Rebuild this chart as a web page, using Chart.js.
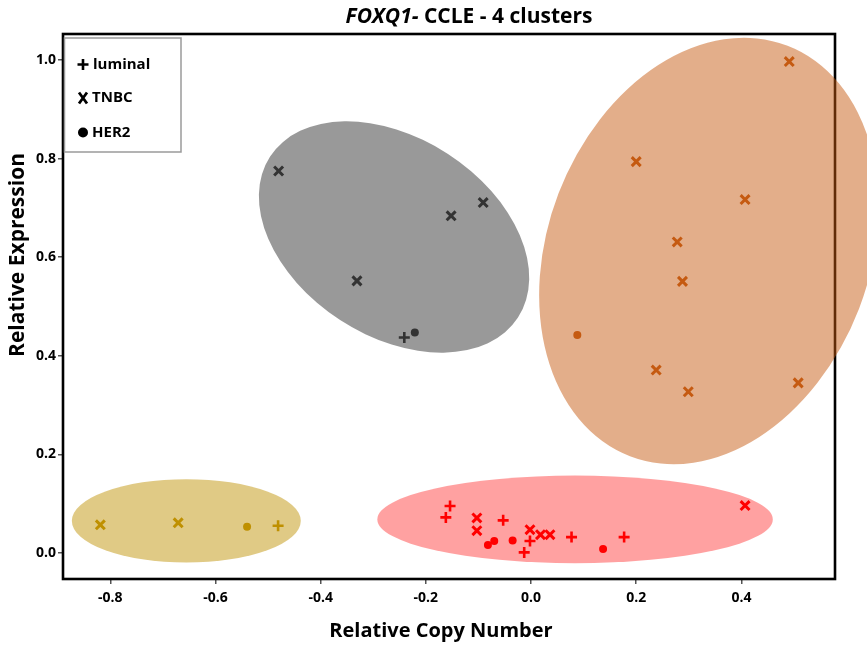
<!DOCTYPE html>
<html><head><meta charset="utf-8">
<script src="https://cdn.jsdelivr.net/npm/chart.js@4.4.0/dist/chart.umd.min.js"></script>
<style>html,body{margin:0;padding:0;background:#fff}#wrap{width:867px;height:650px;position:relative}</style>
</head><body><div id="wrap"><canvas id="c"></canvas></div>
<script>
// ---- data ----
const xTicks = [-0.8, -0.6, -0.4, -0.2, 0.0, 0.2, 0.4];
const yTicks = [0.0, 0.2, 0.4, 0.6, 0.8, 1.0];
const subtypes = ['luminal', 'TNBC', 'HER2'];
const clusterNames = ['gold', 'red', 'gray', 'orange'];

const goldLuminal = [[-0.481, 0.055]];
const goldTNBC = [[-0.819, 0.057], [-0.671, 0.061]];
const goldHER2 = [[-0.540, 0.053]];

const redLuminal = [[-0.154, 0.095], [-0.162, 0.072], [-0.053, 0.066], [-0.002, 0.024], [-0.013, 0.001], [0.077, 0.032], [0.177, 0.032]];
const redTNBC = [[-0.103, 0.071], [-0.103, 0.045], [-0.002, 0.047], [0.018, 0.037], [0.036, 0.037], [0.407, 0.096]];
const redHER2 = [[-0.082, 0.016], [-0.070, 0.024], [-0.035, 0.025], [0.137, 0.008]];

const grayLuminal = [[-0.241, 0.437]];
const grayTNBC = [[-0.480, 0.775], [-0.152, 0.684], [-0.091, 0.711], [-0.331, 0.552]];
const grayHER2 = [[-0.221, 0.447]];

const orangeLuminal = [];
const orangeTNBC = [[0.491, 0.997], [0.200, 0.794], [0.407, 0.717], [0.278, 0.631], [0.288, 0.551], [0.238, 0.371], [0.299, 0.327], [0.508, 0.345]];
const orangeHER2 = [[0.088, 0.442]];

// cluster ellipses: centre and semi-axes in data units, rotation in degrees
const ellipseCenters = [[-0.6555, 0.065], [0.0837, 0.068], [-0.2605, 0.641], [0.338, 0.6126]];
const ellipseRadii = [[0.2177, 0.0846], [0.376, 0.0888], [0.281, 0.201], [0.418, 0.3266]];
const ellipseAngles = [0, 0, 33, -69];

// ---- styles ----
const pointColors = ['#BF9000', '#FF0000', '#333333', '#C55A11'];
const ellipseColors = ['rgba(191,144,0,0.48)', 'rgba(255,0,0,0.37)', 'rgba(51,51,51,0.5)', 'rgba(197,90,17,0.49)'];
const FONT = "'Open Sans', 'DejaVu Sans', sans-serif";

const seriesByCluster = [
  [goldLuminal, goldTNBC, goldHER2],
  [redLuminal, redTNBC, redHER2],
  [grayLuminal, grayTNBC, grayHER2],
  [orangeLuminal, orangeTNBC, orangeHER2]
];

function styleFor(type, color) {
  if (type === 0) return { pointStyle: 'cross', pointRadius: 5.5, borderWidth: 2.6, borderColor: color, backgroundColor: color };
  if (type === 1) return { pointStyle: 'crossRot', pointRadius: 6.3, borderWidth: 3, borderColor: color, backgroundColor: color };
  return { pointStyle: 'circle', pointRadius: 4, borderWidth: 0, borderColor: color, backgroundColor: color };
}

const datasets = [];
seriesByCluster.forEach((arr, ci) => {
  arr.forEach((pts, ti) => {
    if (!pts.length) return;
    datasets.push(Object.assign({
      label: clusterNames[ci] + ' ' + subtypes[ti],
      data: pts.map(p => ({ x: p[0], y: p[1] })),
      pointHoverRadius: 6
    }, styleFor(ti, pointColors[ci])));
  });
});

const backgroundPlugin = {
  id: 'bgShapes',
  beforeDatasetsDraw(chart) {
    const { ctx, chartArea: a, scales: { x, y } } = chart;
    ctx.save();
    ctx.strokeStyle = '#000';
    ctx.lineWidth = 2.6;
    ctx.strokeRect(a.left, a.top, a.right - a.left, a.bottom - a.top);
    for (let i = 0; i < ellipseCenters.length; i++) {
      const cx = x.getPixelForValue(ellipseCenters[i][0]);
      const cy = y.getPixelForValue(ellipseCenters[i][1]);
      const rx = Math.abs(x.getPixelForValue(ellipseCenters[i][0] + ellipseRadii[i][0]) - cx);
      const ry = Math.abs(y.getPixelForValue(ellipseCenters[i][1] + ellipseRadii[i][1]) - cy);
      ctx.beginPath();
      ctx.ellipse(cx, cy, rx, ry, ellipseAngles[i] * Math.PI / 180, 0, Math.PI * 2);
      ctx.fillStyle = ellipseColors[i];
      ctx.fill();
    }
    ctx.restore();
  }
};

const textPlugin = {
  id: 'texts',
  afterDraw(chart) {
    const { ctx, chartArea: a } = chart;
    ctx.save();
    // title
    ctx.textBaseline = 'middle';
    ctx.fillStyle = '#000';
    const f1 = "italic bold 21px " + FONT, f2 = "bold 21px " + FONT;
    const t1 = 'FOXQ1-', t2 = ' CCLE - 4 clusters';
    ctx.font = f1; const w1 = ctx.measureText(t1).width;
    ctx.font = f2; const w2 = ctx.measureText(t2).width;
    let sx = 469 - (w1 + w2) / 2;
    ctx.textAlign = 'left';
    ctx.font = f1; ctx.fillText(t1, sx, 17);
    ctx.font = f2; ctx.fillText(t2, sx + w1, 17);
    // axis titles
    ctx.font = "bold 20px " + FONT;
    ctx.textAlign = 'center';
    ctx.fillText('Relative Copy Number', 441, 631);
    ctx.save();
    ctx.font = "bold 21px " + FONT;
    ctx.translate(18, 255);
    ctx.rotate(-Math.PI / 2);
    ctx.fillText('Relative Expression', 0, 0);
    ctx.restore();
    // legend box
    ctx.fillStyle = '#fff';
    ctx.fillRect(a.left + 1.5, 38, 181 - a.left - 1.5, 114);
    ctx.strokeStyle = '#9a9a9a';
    ctx.lineWidth = 1.5;
    ctx.strokeRect(a.left + 1.5, 38, 181 - a.left - 1.5, 114);
    // legend markers
    ctx.strokeStyle = '#000';
    ctx.fillStyle = '#000';
    ctx.lineWidth = 2.6;
    ctx.beginPath();
    ctx.moveTo(77.5, 64.5); ctx.lineTo(88.5, 64.5);
    ctx.moveTo(83, 59); ctx.lineTo(83, 70);
    ctx.stroke();
    ctx.lineWidth = 2.8;
    ctx.beginPath();
    ctx.moveTo(79, 92.5); ctx.lineTo(87, 103.5);
    ctx.moveTo(87, 92.5); ctx.lineTo(79, 103.5);
    ctx.stroke();
    ctx.beginPath();
    ctx.arc(83, 132.5, 5, 0, Math.PI * 2);
    ctx.fill();
    ctx.font = "bold 15px " + FONT;
    ctx.textAlign = 'left';
    ctx.fillText('luminal', 93, 65);
    ctx.fillText('TNBC', 92, 98);
    ctx.fillText('HER2', 92, 133);
    ctx.restore();
  }
};

const tickFont = { family: FONT, weight: 'bold', size: 14 };

new Chart(document.getElementById('c'), {
  type: 'scatter',
  data: { datasets },
  plugins: [backgroundPlugin, textPlugin],
  options: {
    responsive: true,
    maintainAspectRatio: false,
    animation: false,
    layout: { padding: { top: 34, right: 32, left: 0, bottom: 0 } },
    plugins: { legend: { display: false }, title: { display: false }, tooltip: { enabled: false } },
    scales: {
      x: {
        type: 'linear', min: -0.89, max: 0.578,
        afterBuildTicks(s) { s.ticks = xTicks.map(v => ({ value: v })); },
        afterFit(s) { s.height = 71; },
        ticks: { callback: v => Number(v).toFixed(1), font: tickFont, color: '#000', padding: 6, maxRotation: 0, autoSkip: false },
        grid: { drawOnChartArea: false, drawTicks: true, tickLength: 5, color: '#555', lineWidth: 1.5 },
        border: { display: false }
      },
      y: {
        type: 'linear', min: -0.053, max: 1.053,
        afterBuildTicks(s) { s.ticks = yTicks.map(v => ({ value: v })); },
        afterFit(s) { s.width = 63; },
        ticks: { callback: v => Number(v).toFixed(1), font: tickFont, color: '#000', padding: 2, autoSkip: false },
        grid: { drawOnChartArea: false, drawTicks: true, tickLength: 5, color: '#555', lineWidth: 1.5 },
        border: { display: false }
      }
    }
  }
});
</script>
</body></html>
